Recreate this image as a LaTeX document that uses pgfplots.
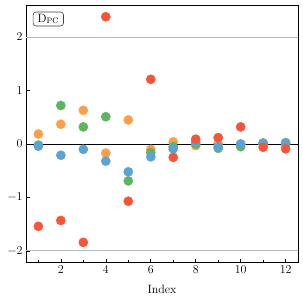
\documentclass[border=0pt]{standalone}
\usepackage{pgfplots}
\pgfplotsset{compat=1.18}
\definecolor{cred}{HTML}{F7553A}
\definecolor{corange}{HTML}{FD9F4A}
\definecolor{cgreen}{HTML}{5DB65F}
\definecolor{cblue}{HTML}{5AA4D3}
\begin{document}
\begin{tikzpicture}
\begin{axis}[
  at={(0,0)}, anchor=south west,
  scale only axis,
  width=272pt, height=257.7pt,
  xmin=0.45, xmax=12.55,
  ymin=-2.22, ymax=2.6,
  xtick={2,4,...,12},
  minor xtick={1,3,...,11},
  ytick={-2,-1,0,1,2},
  xtick pos=bottom, ytick pos=left,
  tick align=inside,
  major tick length=3.5pt, minor tick length=3pt,
  tick style={black, line width=0.6pt},
  axis line style={line width=0.8pt},
  xlabel={Index},
  tick label style={font=\fontsize{12}{14}\selectfont},
  label style={font=\fontsize{12}{14}\selectfont},
  xlabel style={yshift=-4pt},
  clip=false,
  dot/.style={only marks, mark=*, mark size=4.6pt},
]
\addplot[gray!55, sharp plot, line width=1pt, mark=none] coordinates {(0.45,2) (12.55,2)};
\addplot[gray!55, sharp plot, line width=1pt, mark=none] coordinates {(0.45,-2) (12.55,-2)};
\addplot[black, sharp plot, line width=0.9pt, mark=none] coordinates {(0.45,0) (12.55,0)};
% orange
\addplot[dot, corange] coordinates {
(1,0.187) (2,0.37) (3,0.63) (4,-0.17) (5,0.45) (6,-0.10) (7,0.04) (8,-0.03) (9,0.01) (10,0.0) (11,0.0) (12,0.03)};
% green
\addplot[dot, cgreen] coordinates {
(1,-0.02) (2,0.72) (3,0.32) (4,0.51) (5,-0.69) (6,-0.16) (7,-0.05) (8,0.0) (9,-0.08) (10,-0.05) (11,0.02) (12,0.0)};
% blue
\addplot[dot, cblue] coordinates {
(1,-0.04) (2,-0.21) (3,-0.10) (4,-0.32) (5,-0.52) (6,-0.24) (7,-0.09) (8,0.04) (9,-0.05) (10,0.0) (11,0.01) (12,0.02)};
% red
\addplot[dot, cred] coordinates {
(1,-1.54) (2,-1.43) (3,-1.84) (4,2.38) (5,-1.07) (6,1.21) (7,-0.25) (8,0.09) (9,0.12) (10,0.32) (11,-0.06) (12,-0.09)};
\node[draw=black!75, rounded corners=3pt, line width=0.6pt, anchor=north west, inner xsep=4.5pt, inner ysep=2pt, fill=white, font=\fontsize{12}{14}\selectfont]
  at (axis description cs:0.025,0.974) {D$_{\mathrm{PC}}$};
\end{axis}
\path (-26pt,-38.3pt) rectangle (277pt,262.7pt);
\end{tikzpicture}
\end{document}
